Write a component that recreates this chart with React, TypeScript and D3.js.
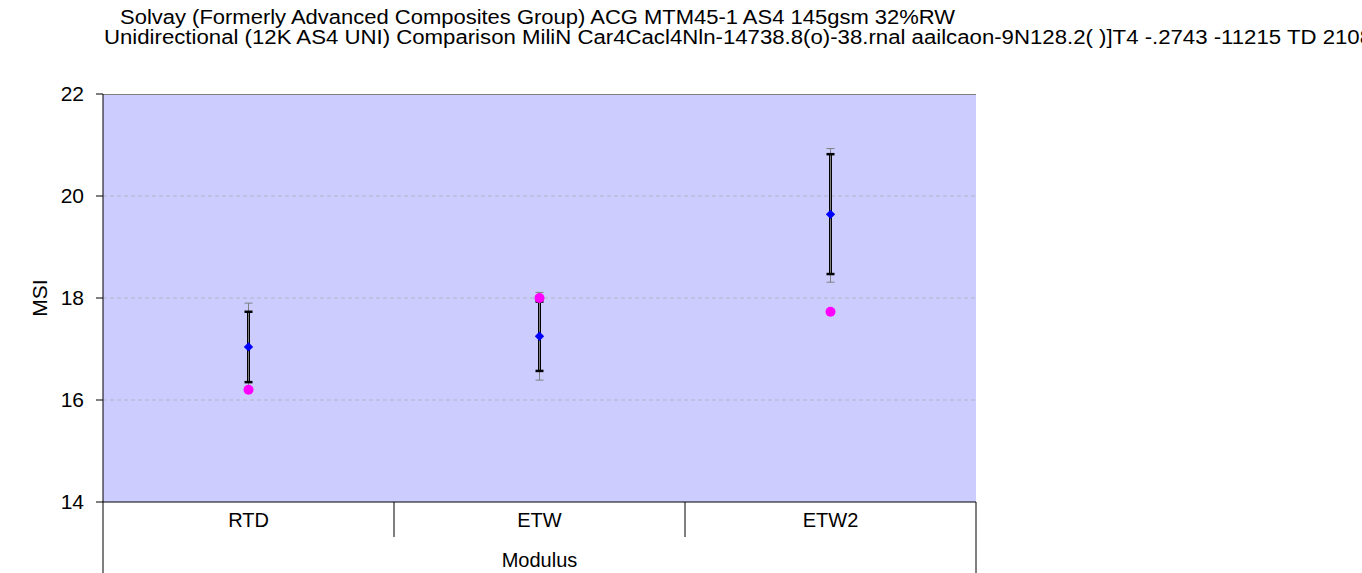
import * as d3 from 'd3'

// chart values
const categories = ['RTD', 'ETW', 'ETW2']
const means = [17.04, 17.25, 19.64]
const innerLow = [16.35, 16.57, 18.47]
const innerHigh = [17.73, 17.93, 20.82]
const outerLow = [16.18, 16.39, 18.31]
const outerHigh = [17.9, 18.11, 20.93]
const compareValues = [16.2, 18.0, 17.73]
const yTicks = [14, 16, 18, 20, 22]
const gridTicks = [16, 18, 20]

const titleLine1 = 'Solvay (Formerly Advanced Composites Group)  ACG MTM45-1 AS4 145gsm 32%RW'
const titleLine2 = 'Unidirectional (12K AS4 UNI) Comparison MiliN Car4Cacl4Nln-14738.8(o)-38.rnal aailcaon-9N128.2( )]T4 -.2743 -11215 TD 2108'

const W = 1362
const H = 573
const font = '"Liberation Sans", Arial, sans-serif'

export default function App() {
  const left = 103
  const right = 976
  const top = 94
  const bottom = 502

  const x = d3.scaleBand<string>().domain(categories).range([left, right]).padding(0)
  const y = d3.scaleLinear().domain([14, 22]).range([bottom, top])
  const cx = (i: number) => (x(categories[i]) || 0) + x.bandwidth() / 2

  const diamond = d3.symbol().type(d3.symbolDiamond2).size(55)

  return (
    <svg width={W} height={H} style={{ position: 'absolute', left: 0, top: 0, background: '#fff' }}
      fontFamily={font}>
      {/* Titre */}
      <text x={120} y={24} fontSize={20} textLength={835} lengthAdjust="spacingAndGlyphs">{titleLine1}</text>
      <text x={104} y={44} fontSize={20} textLength={1268} lengthAdjust="spacingAndGlyphs">{titleLine2}</text>

      {/* Zone de tracé */}
      <rect x={left} y={top} width={right - left} height={bottom - top} fill="#CCCCFF" />
      <line x1={left} x2={right} y1={top + 0.5} y2={top + 0.5} stroke="#808080" strokeWidth={1} />
      {gridTicks.map(t => (
        <line key={t} x1={left} x2={right} y1={y(t)} y2={y(t)} stroke="#b4b4c8" strokeWidth={1}
          strokeDasharray="4,3" />
      ))}

      {/* Axe Y */}
      <line x1={left} x2={left} y1={top} y2={bottom} stroke="#000" />
      {yTicks.map(t => (
        <g key={t}>
          <line x1={left - 7} x2={left} y1={y(t)} y2={y(t)} stroke="#000" />
          <text x={84} y={y(t)} dy="0.35em" textAnchor="end" fontSize={21}>{t}</text>
        </g>
      ))}
      <text transform={`translate(47,${(top + bottom) / 2}) rotate(-90)`} textAnchor="middle" fontSize={21}>MSI</text>

      {/* Axe X */}
      <line x1={left} x2={right} y1={bottom} y2={bottom} stroke="#000" />
      <line x1={left} x2={left} y1={bottom} y2={H} stroke="#000" />
      <line x1={right} x2={right} y1={bottom} y2={H} stroke="#000" />
      {categories.slice(1).map(c => (
        <line key={c} x1={x(c)} x2={x(c)} y1={bottom} y2={537} stroke="#000" />
      ))}
      {categories.map((c, i) => (
        <text key={c} x={cx(i)} y={527} textAnchor="middle" fontSize={20}>{c}</text>
      ))}
      <text x={(left + right) / 2} y={567} textAnchor="middle" fontSize={20}>Modulus</text>

      {/* Barres d'erreur */}
      {categories.map((c, i) => (
        <g key={c}>
          <line x1={cx(i)} x2={cx(i)} y1={y(innerLow[i])} y2={y(innerHigh[i])} stroke="#000" strokeWidth={3} />
          <line x1={cx(i)} x2={cx(i)} y1={y(outerLow[i])} y2={y(outerHigh[i])} stroke="#808080" strokeWidth={1} />
          {[outerLow[i], outerHigh[i]].map((v, k) => (
            <line key={'o' + k} x1={cx(i) - 4} x2={cx(i) + 4} y1={y(v)} y2={y(v)} stroke="#808080" strokeWidth={1} />
          ))}
          {[innerLow[i], innerHigh[i]].map((v, k) => (
            <line key={'i' + k} x1={cx(i) - 4} x2={cx(i) + 4} y1={y(v)} y2={y(v)} stroke="#000" strokeWidth={2.5} />
          ))}
          <path d={diamond() || ''} transform={`translate(${cx(i)},${y(means[i])})`} fill="#0000FF" />
          <circle cx={cx(i)} cy={y(compareValues[i])} r={5} fill="#FF00FF" />
        </g>
      ))}
    </svg>
  )
}
